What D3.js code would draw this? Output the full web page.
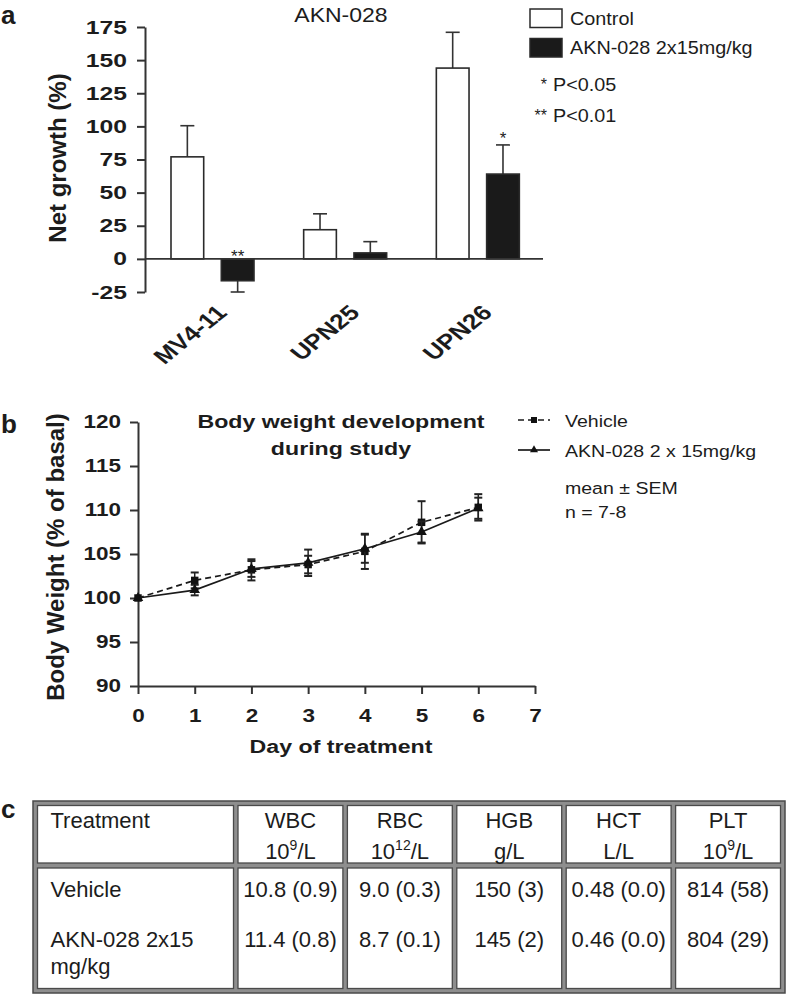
<!DOCTYPE html>
<html>
<head>
<meta charset="utf-8">
<script src="https://cdn.jsdelivr.net/npm/d3@7"></script>
<style>
  html, body { margin: 0; padding: 0; background: #fff; }
  svg { display: block; }
</style>
</head>
<body>
<div id="chart"></div>
<script>
// ---------------- DATA ----------------
// Panel a: net growth (%)
const cellLines = ["MV4-11", "UPN25", "UPN26"];
const seriesNames = ["Control", "AKN-028 2x15mg/kg"];
const controlMean = [77, 22, 144];
const controlErr = [23.5, 12, 27];
const treatMean = [-16.5, 4.5, 64];
const treatErr = [8.5, 8.5, 22];
const treatStars = ["**", "", "*"];
const yTicksA = [-25, 0, 25, 50, 75, 100, 125, 150, 175];
const pLegend = [["*", "P<0.05"], ["**", "P<0.01"]];

// Panel b: body weight (% of basal)
const days = [0, 1, 2, 3, 4, 5, 6];
const vehicleMean = [100, 102.0, 103.2, 103.8, 105.3, 108.6, 110.3];
const vehicleSem = [0, 0.9, 1.2, 1.0, 2.0, 2.4, 1.5];
const aknMean = [100, 100.9, 103.3, 104.0, 105.6, 107.5, 110.2];
const aknSem = [0, 0.6, 0.9, 1.5, 1.6, 1.2, 1.2];
const xTicksB = [0, 1, 2, 3, 4, 5, 6, 7];
const yTicksB = [90, 95, 100, 105, 110, 115, 120];
const lineNames = ["Vehicle", "AKN-028 2 x 15mg/kg"];

// Panel c: haematology table
const tableHeaders = ["Treatment", "WBC", "RBC", "HGB", "HCT", "PLT"];
const tableUnits = ["", "10^9/L", "10^12/L", "g/L", "L/L", "10^9/L"];
const treatmentLabels = [["Vehicle"], ["AKN-028 2x15", "mg/kg"]];
const vehicleValues = ["10.8 (0.9)", "9.0 (0.3)", "150 (3)", "0.48 (0.0)", "814 (58)"];
const aknValues = ["11.4 (0.8)", "8.7 (0.1)", "145 (2)", "0.46 (0.0)", "804 (29)"];

// ---------------- SETUP ----------------
const W = 787, H = 994;
const FONT = "'Liberation Sans', Arial, Helvetica, sans-serif";
const INK = "#1c1c1c";
const svg = d3.select("#chart").append("svg").attr("width", W).attr("height", H)
  .style("font-family", FONT);

function stext(parent, x, y, str, o = {}) {
  const sx = o.sx || 1;
  const t = parent.append("text")
    .attr("transform", `translate(${x},${y}) scale(${sx},1)` + (o.rotate ? ` rotate(${o.rotate})` : ""))
    .attr("text-anchor", o.anchor || "start")
    .attr("font-size", o.size || 16)
    .attr("font-weight", o.weight || "normal")
    .attr("fill", o.fill || INK)
    .text(str);
  return t;
}

function styleAxis(g, sx, size) {
  g.select(".domain").attr("stroke", "#333").attr("stroke-width", 2);
  g.selectAll(".tick line").attr("stroke", "#333").attr("stroke-width", 2);
  g.selectAll(".tick text").each(function () {
    const el = d3.select(this);
    const x = +el.attr("x") || 0;
    el.attr("x", x / sx).attr("transform", `scale(${sx},1)`)
      .attr("font-size", size).attr("font-weight", "bold")
      .attr("fill", INK).attr("font-family", FONT);
  });
}
const plainFmt = d => String(d);

// Panel letters
stext(svg, 1, 24, "a", { size: 26, weight: "bold" });
stext(svg, 1, 433, "b", { size: 26, weight: "bold" });
stext(svg, 1, 818, "c", { size: 26, weight: "bold" });

// ---------------- PANEL A ----------------
const gA = svg.append("g");
const xA = d3.scaleBand().domain(cellLines).range([145, 543]).padding(0);
const xA1 = d3.scaleBand().domain(seriesNames).range([26, 109]).paddingInner(0.35);
const yA = d3.scaleLinear().domain([-25, 175]).range([292, 27]);

const axA = gA.append("g").attr("transform", "translate(145,0)")
  .call(d3.axisLeft(yA).tickValues(yTicksA).tickFormat(plainFmt).tickSize(8).tickSizeOuter(0).tickPadding(10));
styleAxis(axA, 1.3, 19);

stext(gA, 341, 22, "AKN-028", { size: 20, anchor: "middle", sx: 1.15 });
stext(gA, 66, 158, "Net growth (%)", { size: 24, weight: "bold", anchor: "middle", rotate: -90 });

const barData = [];
cellLines.forEach((c, i) => {
  barData.push({ cat: c, s: seriesNames[0], v: controlMean[i], e: controlErr[i], star: "" });
  barData.push({ cat: c, s: seriesNames[1], v: treatMean[i], e: treatErr[i], star: treatStars[i] });
});
const barX = d => xA(d.cat) + xA1(d.s);
const bw = xA1.bandwidth();

// error bars (behind bars)
const eb = gA.append("g").attr("stroke", "#333").attr("stroke-width", 1.6);
barData.forEach(d => {
  const cx = barX(d) + bw / 2;
  const end = d.v >= 0 ? d.v + d.e : d.v - d.e;
  eb.append("line").attr("x1", cx).attr("x2", cx).attr("y1", yA(d.v)).attr("y2", yA(end));
  eb.append("line").attr("x1", cx - 7).attr("x2", cx + 7).attr("y1", yA(end)).attr("y2", yA(end));
});

gA.append("g").selectAll("rect").data(barData).join("rect")
  .attr("x", barX)
  .attr("width", bw)
  .attr("y", d => yA(Math.max(0, d.v)))
  .attr("height", d => Math.abs(yA(d.v) - yA(0)))
  .attr("fill", d => d.s === seriesNames[0] ? "#fff" : "#1a1a1a")
  .attr("stroke", "#2a2a2a").attr("stroke-width", 1.6);

// zero line
gA.append("line").attr("x1", 145).attr("x2", 543).attr("y1", yA(0)).attr("y2", yA(0))
  .attr("stroke", "#333").attr("stroke-width", 1.6);

// significance stars
barData.filter(d => d.star).forEach(d => {
  const cx = barX(d) + bw / 2;
  const top = d.v >= 0 ? d.v + d.e : 0;
  stext(gA, cx, yA(top) + (d.v >= 0 ? -1 : 3), d.star, { size: 17, anchor: "middle", fill: "#222" });
});

// category labels
cellLines.forEach(c => {
  stext(gA, xA(c) + xA.bandwidth() / 2 + 17, 314, c,
    { size: 21, weight: "bold", anchor: "end", sx: 1.25, rotate: -45 });
});

// legend a
const legA = gA.append("g");
seriesNames.forEach((s, i) => {
  const y0 = 9 + i * 29.5;
  legA.append("rect").attr("x", 530).attr("y", y0).attr("width", 32).attr("height", 18.5)
    .attr("fill", i === 0 ? "#fff" : "#1a1a1a").attr("stroke", "#2a2a2a").attr("stroke-width", 1.5);
  stext(legA, 570, y0 + 15.5, s, { size: 18, sx: 1.1 });
});
pLegend.forEach((p, i) => {
  const yb = 91 + i * 31;
  stext(legA, 547, yb - 1, p[0], { size: 16, anchor: "end" });
  stext(legA, 553, yb, p[1], { size: 18, sx: 1.1 });
});

// ---------------- PANEL B ----------------
const gB = svg.append("g");
const xB = d3.scaleLinear().domain([0, 7]).range([138, 535]);
const yB = d3.scaleLinear().domain([90, 120]).range([686, 422]);

const axBy = gB.append("g").attr("transform", "translate(138,0)")
  .call(d3.axisLeft(yB).tickValues(yTicksB).tickFormat(plainFmt).tickSize(8).tickSizeOuter(0).tickPadding(9));
styleAxis(axBy, 1.25, 18);
const axBx = gB.append("g").attr("transform", "translate(0,686)")
  .call(d3.axisBottom(xB).tickValues(xTicksB).tickFormat(plainFmt).tickSize(8).tickSizeOuter(0));
styleAxis(axBx, 1.25, 18);
axBx.selectAll(".tick text").attr("y", 36).attr("dy", null);

stext(gB, 64, 557, "Body Weight (% of basal)", { size: 24, weight: "bold", anchor: "middle", rotate: -90 });
stext(gB, 341, 753, "Day of treatment", { size: 19, weight: "bold", anchor: "middle", sx: 1.22 });
stext(gB, 341, 428, "Body weight development", { size: 19, weight: "bold", anchor: "middle", sx: 1.22 });
stext(gB, 341, 455, "during study", { size: 19, weight: "bold", anchor: "middle", sx: 1.22 });

const seriesB = [
  { name: lineNames[0], mean: vehicleMean, sem: vehicleSem, dash: "6,4", marker: "square" },
  { name: lineNames[1], mean: aknMean, sem: aknSem, dash: null, marker: "triangle" }
];
const lineGen = d3.line().x(d => xB(d.x)).y(d => yB(d.y));
const symSquare = d3.symbol().type(d3.symbolSquare).size(56);
const symTri = d3.symbol().type(d3.symbolTriangle).size(48);

seriesB.forEach(s => {
  const pts = days.map((d, i) => ({ x: d, y: s.mean[i], e: s.sem[i] }));
  const g = gB.append("g");
  pts.filter(p => p.e > 0).forEach(p => {
    const cx = xB(p.x);
    g.append("line").attr("x1", cx).attr("x2", cx).attr("y1", yB(p.y - p.e)).attr("y2", yB(p.y + p.e))
      .attr("stroke", "#222").attr("stroke-width", 1.5);
    [p.y - p.e, p.y + p.e].forEach(v => {
      g.append("line").attr("x1", cx - 4).attr("x2", cx + 4).attr("y1", yB(v)).attr("y2", yB(v))
        .attr("stroke", "#222").attr("stroke-width", 2);
    });
  });
  g.append("path").datum(pts).attr("d", lineGen).attr("fill", "none")
    .attr("stroke", "#1a1a1a").attr("stroke-width", 1.7)
    .attr("stroke-dasharray", s.dash);
  g.selectAll("path.m").data(pts).join("path").attr("class", "m")
    .attr("transform", p => `translate(${xB(p.x)},${yB(p.y)})`)
    .attr("d", s.marker === "square" ? symSquare : symTri)
    .attr("fill", "#111");
});

// legend b
const legB = gB.append("g");
seriesB.forEach((s, i) => {
  const y0 = 420 + i * 30;
  legB.append("line").attr("x1", 518).attr("x2", 550).attr("y1", y0).attr("y2", y0)
    .attr("stroke", "#1a1a1a").attr("stroke-width", 1.7).attr("stroke-dasharray", s.dash);
  legB.append("path").attr("transform", `translate(534,${y0})`)
    .attr("d", (s.marker === "square" ? d3.symbol().type(d3.symbolSquare).size(36)
      : d3.symbol().type(d3.symbolTriangle).size(28))())
    .attr("fill", "#111");
  stext(legB, 565, y0 + 7, s.name, { size: 17, sx: 1.15 });
});
stext(legB, 565, 494, "mean \u00B1 SEM", { size: 17, sx: 1.15 });
stext(legB, 565, 518, "n = 7-8", { size: 17, sx: 1.15 });

// ---------------- PANEL C (table) ----------------
const gC = svg.append("g");
const tableLeft = 33, tableTop = 801, tableRight = 785, tableBottom = 993;
const gap = 4.5;
const firstColW = 196;
const colW = (tableRight - tableLeft - gap * 7 - firstColW) / 5;
const colX = [tableLeft + gap];
for (let i = 1; i < 6; i++) colX.push(colX[i - 1] + (i === 1 ? firstColW : colW) + gap);
const colWidths = [firstColW, colW, colW, colW, colW, colW];
const rowY = [tableTop + gap, 868];
const rowH = [863 - (tableTop + gap), tableBottom - gap - 868];

gC.append("rect").attr("x", tableLeft).attr("y", tableTop)
  .attr("width", tableRight - tableLeft).attr("height", tableBottom - tableTop)
  .attr("fill", "#8e8e8e").attr("stroke", "#4a4a4a").attr("stroke-width", 1.5);
rowY.forEach((ry, r) => {
  colX.forEach((cx, c) => {
    gC.append("rect").attr("x", cx).attr("y", ry).attr("width", colWidths[c]).attr("height", rowH[r])
      .attr("fill", "#fff").attr("stroke", "#4a4a4a").attr("stroke-width", 1.3);
  });
});

tableHeaders.forEach((h, c) => {
  if (c === 0) {
    stext(gC, colX[0] + 13, 828, h, { size: 22 });
  } else {
    const cx = colX[c] + colWidths[c] / 2;
    stext(gC, cx, 828, h, { size: 22, anchor: "middle" });
    const parts = tableUnits[c].match(/^(\d+)\^(\d+)(.*)$/);
    const t = gC.append("text").attr("x", cx).attr("y", 859).attr("text-anchor", "middle")
      .attr("font-size", 22).attr("fill", INK);
    if (parts) {
      t.append("tspan").text(parts[1]);
      t.append("tspan").attr("font-size", 14).attr("dy", -9).text(parts[2]);
      t.append("tspan").attr("dy", 9).text(parts[3]);
    } else {
      t.text(tableUnits[c]);
    }
  }
});

const bodyRows = [vehicleValues, aknValues];
const rowBase = [897, 947];
treatmentLabels.forEach((lines, r) => {
  lines.forEach((ln, k) => stext(gC, colX[0] + 13, rowBase[r] + k * 27, ln, { size: 22 }));
  bodyRows[r].forEach((v, c) => {
    stext(gC, colX[c + 1] + colWidths[c + 1] / 2, rowBase[r], v, { size: 22, anchor: "middle" });
  });
});
</script>
</body>
</html>
